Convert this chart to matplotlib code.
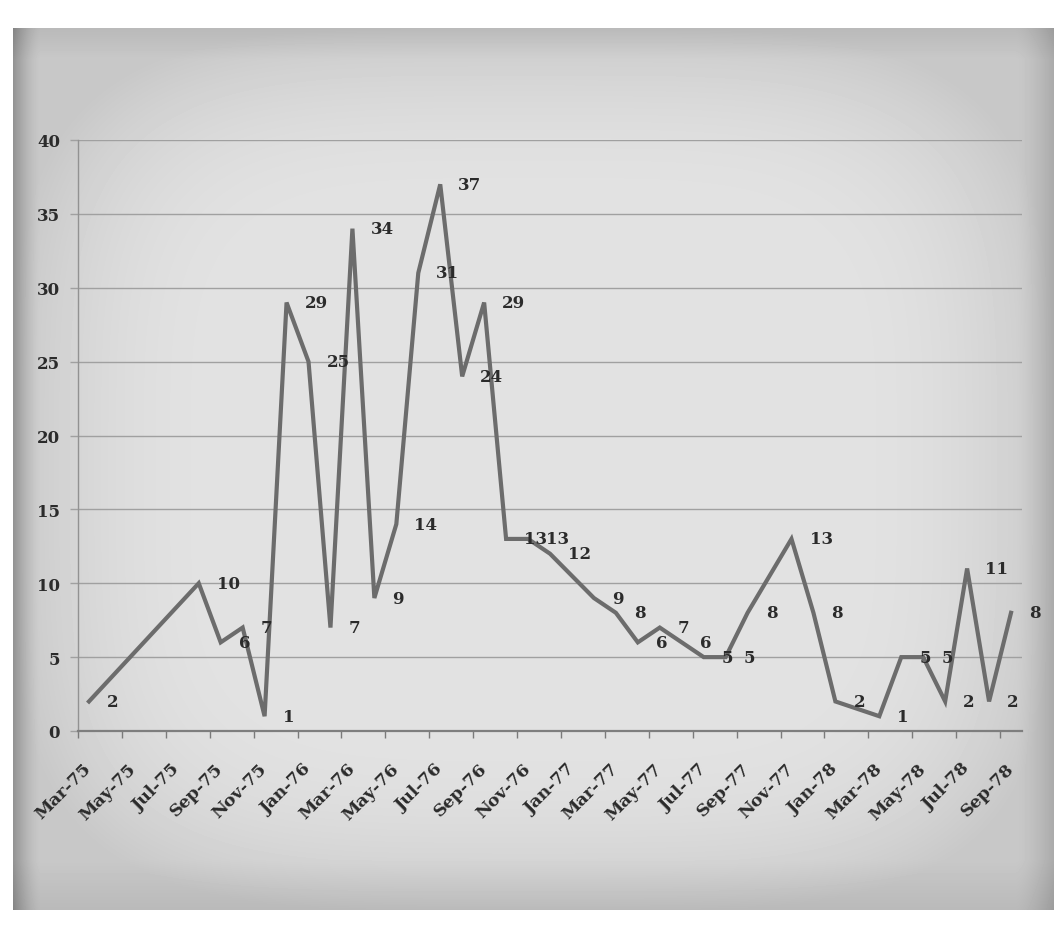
import numpy as np
import pandas as pd
import matplotlib.pyplot as plt

# observed months and counts (months with no point are skipped by the line)
point_dates = ['1975-03', '1975-08', '1975-09', '1975-10', '1975-11', '1975-12',
               '1976-01', '1976-02', '1976-03', '1976-04', '1976-05', '1976-06',
               '1976-07', '1976-08', '1976-09', '1976-10', '1976-11', '1976-12',
               '1977-02', '1977-03', '1977-04', '1977-05', '1977-06', '1977-07',
               '1977-08', '1977-09', '1977-11', '1977-12', '1978-01', '1978-03',
               '1978-04', '1978-05', '1978-06', '1978-07', '1978-08', '1978-09']
counts = [2, 10, 6, 7, 1, 29,
          25, 7, 34, 9, 14, 31,
          37, 24, 29, 13, 13, 12,
          9, 8, 6, 7, 6, 5,
          5, 8, 13, 8, 2, 1,
          5, 5, 2, 11, 2, 8]
tick_labels = ['Mar-75', 'May-75', 'Jul-75', 'Sep-75', 'Nov-75', 'Jan-76',
               'Mar-76', 'May-76', 'Jul-76', 'Sep-76', 'Nov-76', 'Jan-77',
               'Mar-77', 'May-77', 'Jul-77', 'Sep-77', 'Nov-77', 'Jan-78',
               'Mar-78', 'May-78', 'Jul-78', 'Sep-78']

months = pd.date_range('1975-03-01', '1978-09-01', freq='MS')
xs = [months.get_loc(pd.Timestamp(d)) for d in point_dates]

W, H = 1054, 929
fig = plt.figure(figsize=(W / 100, H / 100), dpi=100)

# old paper backdrop
yy, xx = np.mgrid[0:H, 0:W]
dx = (xx - 533) / 520.0
dy = (yy - 470) / 442.0
r = (np.abs(dx) ** 4 + np.abs(dy) ** 4) ** (1 / 4)
shade = 0.885 - 0.10 * np.clip((r - 0.6) / 0.4, 0, 1) ** 2
shade -= 0.22 * np.clip((40 - xx) / 28.0, 0, 1) ** 1.5
shade -= 0.12 * np.clip((xx - 1015) / 39.0, 0, 1) ** 1.5
shade -= 0.06 * np.clip((60 - yy) / 32.0, 0, 1)
shade -= 0.06 * np.clip((yy - 860) / 52.0, 0, 1)
inside = (xx > 12) & (yy > 28) & (yy < 911)
paper = np.where(inside, shade, 1.0)
bg = fig.add_axes([0, 0, 1, 1])
bg.imshow(paper, cmap='gray', vmin=0, vmax=1, aspect='auto', interpolation='bilinear')
bg.axis('off')

ax = fig.add_axes([78 / W, 1 - 732 / H, (1022 - 78) / W, (732 - 141) / H])
ax.patch.set_alpha(0)

font = dict(family='DejaVu Serif', weight='bold', color='#2b2b2b')

ax.plot(xs, counts, color='#6c6c6c', lw=3.0, solid_joinstyle='miter', zorder=3)
for x, v in zip(xs, counts):
    ax.annotate(str(v), (x, v), xytext=(13, 0), textcoords='offset points',
                ha='left', va='center', fontsize=12, **font)

ax.set_xlim(-0.5, len(months) - 0.5)
ax.set_ylim(0, 40)
ax.set_yticks(range(0, 41, 5))
ax.grid(axis='y', color='#a0a0a0', lw=1.0)
ax.set_axisbelow(True)

ax.set_xticks(range(0, len(months), 2))
ax.set_xticklabels(tick_labels, rotation=45, ha='right', va='center',
                   rotation_mode='anchor', fontsize=12.5, **font)
ax.set_xticks(np.arange(-0.5, len(months) - 1, 2), minor=True)
ax.tick_params(axis='x', which='major', length=0, pad=25)
ax.tick_params(axis='x', which='minor', length=5, width=1, color='#7a7a7a', direction='out')
ax.tick_params(axis='y', length=6, width=1, color='#a0a0a0', pad=7)
for lab in ax.get_yticklabels():
    lab.set_fontsize(12)
    lab.set_fontfamily('DejaVu Serif')
    lab.set_fontweight('bold')
    lab.set_color('#2b2b2b')

for s in ['top', 'right']:
    ax.spines[s].set_visible(False)
ax.spines['left'].set_color('#929292')
ax.spines['left'].set_linewidth(1.0)
ax.spines['bottom'].set_color('#7e7e7e')
ax.spines['bottom'].set_linewidth(1.6)

fig.savefig('out.png', dpi=100)
